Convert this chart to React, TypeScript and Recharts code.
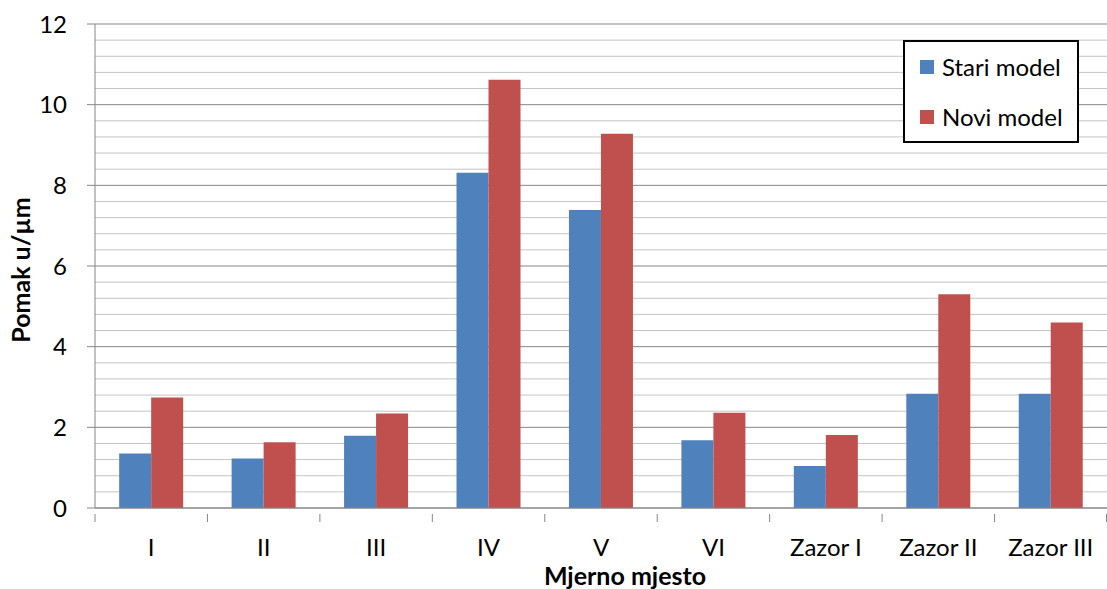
import { BarChart, Bar, XAxis, YAxis, CartesianGrid, Label } from 'recharts'

const categories = ['I', 'II', 'III', 'IV', 'V', 'VI', 'Zazor I', 'Zazor II', 'Zazor III']
const stariModel = [1.35, 1.23, 1.79, 8.31, 7.39, 1.68, 1.04, 2.83, 2.83]
const noviModel = [2.74, 1.63, 2.34, 10.62, 9.28, 2.36, 1.81, 5.3, 4.6]
const yTicks = [0, 2, 4, 6, 8, 10, 12]
const minorLines = [
  0.4, 0.8, 1.2, 1.6, 2.4, 2.8, 3.2, 3.6, 4.4, 4.8, 5.2, 5.6, 6.4, 6.8, 7.2, 7.6,
  8.4, 8.8, 9.2, 9.6, 10.4, 10.8, 11.2, 11.6
]

const data = categories.map((name, i) => ({
  name,
  stari: stariModel[i],
  novi: noviModel[i]
}))

const font = 'Lato, "Open Sans", sans-serif'
const axisGray = '#868686'

const CategoryTick = (props: any) => {
  const { x, y, payload, index } = props
  const half = payload.offset ?? 56.2
  const last = index === categories.length - 1
  return (
    <g>
      <line x1={x - half} y1={y} x2={x - half} y2={y + 8} stroke={axisGray} />
      {last && <line x1={x + half - 0.5} y1={y} x2={x + half - 0.5} y2={y + 8} stroke={axisGray} />}
      <text x={x} y={y + 42} textAnchor="middle" fontFamily={font} fontSize={24} fill="#000">
        {payload.value}
      </text>
    </g>
  )
}

const YTitle = (props: any) => {
  const vb = props.viewBox
  const cx = 30
  const cy = vb.y + 246
  return (
    <text
      x={cx}
      y={cy}
      transform={`rotate(-90 ${cx} ${cy})`}
      textAnchor="middle"
      fontFamily={font}
      fontWeight="bold"
      fontSize={25}
      fill="#000"
    >
      Pomak u/µm
    </text>
  )
}

const XTitle = (props: any) => {
  const vb = props.viewBox
  return (
    <text
      x={vb.x + 530}
      y={vb.y + 77}
      textAnchor="middle"
      fontFamily={font}
      fontWeight="bold"
      fontSize={25}
      fill="#000"
    >
      Mjerno mjesto
    </text>
  )
}

const legendItems = [
  { label: 'Stari model', color: '#4f81bd' },
  { label: 'Novi model', color: '#c0504d' }
]

const LegendBox = () => (
  <div
    style={{
      position: 'absolute',
      left: 903,
      top: 40,
      width: 176,
      height: 103,
      boxSizing: 'border-box',
      border: '2px solid #000',
      background: '#fff',
      fontFamily: font,
      fontSize: 24,
      paddingTop: 12
    }}
  >
    {legendItems.map((item) => (
      <div key={item.label} style={{ display: 'flex', alignItems: 'center', height: 26, marginBottom: 24, paddingLeft: 15 }}>
        <span style={{ display: 'inline-block', width: 14, height: 14, background: item.color, marginRight: 8 }} />
        <span style={{ lineHeight: '26px', color: '#000' }}>{item.label}</span>
      </div>
    ))}
  </div>
)

export default function App() {
  return (
    <div style={{ position: 'absolute', left: 0, top: 0, width: 1107, height: 589, background: '#fff' }}>
      <BarChart
        width={1107}
        height={589}
        data={data}
        margin={{ top: 24, right: 0, bottom: 0, left: 0 }}
        barCategoryGap="21.5%"
        barGap={0}
      >
        <CartesianGrid vertical={false} horizontalValues={minorLines} stroke="#c4c4c4" />
        <CartesianGrid vertical={false} horizontalValues={yTicks} stroke={axisGray} />
        <XAxis
          dataKey="name"
          height={81}
          axisLine={{ stroke: axisGray }}
          tickLine={false}
          tickMargin={0}
          tick={<CategoryTick />}
          interval={0}
        >
          <Label content={<XTitle />} />
        </XAxis>
        <YAxis
          width={95}
          domain={[0, 12]}
          ticks={yTicks}
          interval={0}
          axisLine={{ stroke: axisGray }}
          tickLine={{ stroke: axisGray }}
          tickSize={8}
          tickMargin={20}
          tick={{ fontFamily: font, fontSize: 24, fill: '#000' }}
        >
          <Label content={<YTitle />} />
        </YAxis>
        <Bar dataKey="stari" name="Stari model" fill="#4f81bd" isAnimationActive={false} />
        <Bar dataKey="novi" name="Novi model" fill="#c0504d" isAnimationActive={false} />
      </BarChart>
      <LegendBox />
    </div>
  )
}
